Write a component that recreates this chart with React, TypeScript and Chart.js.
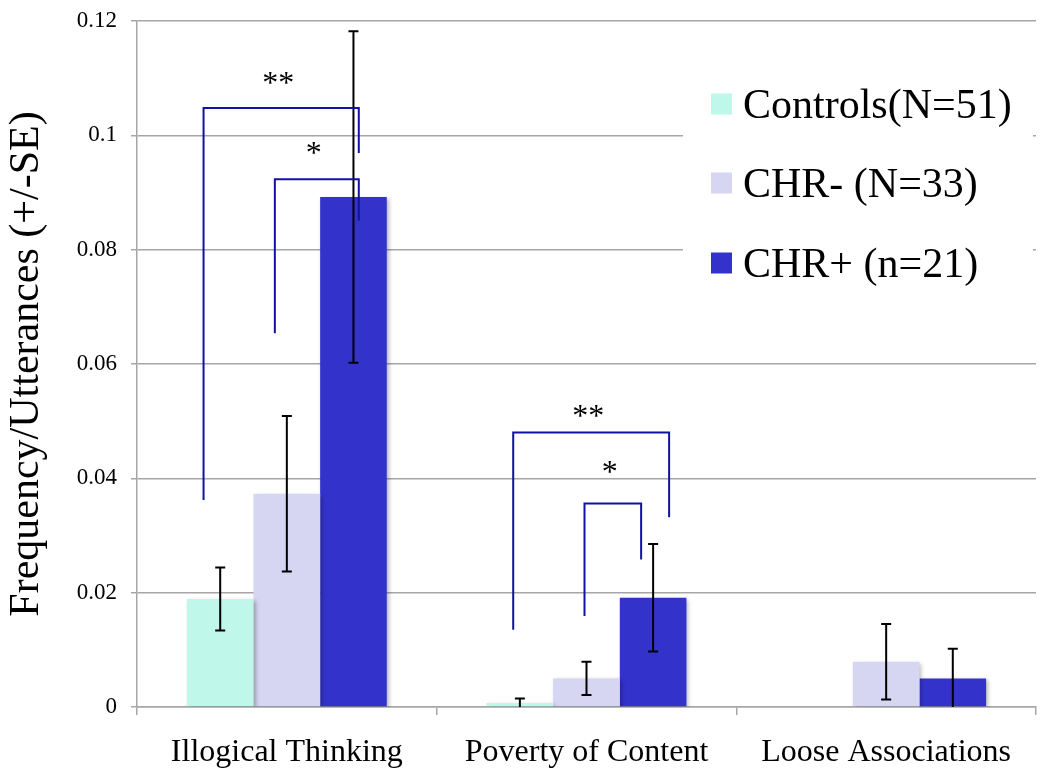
import React, { useEffect, useRef } from "react";
import { Chart, registerables } from "chart.js";

Chart.register(...registerables);

const categories = ["Illogical Thinking", "Poverty of Content", "Loose Associations"];
const seriesLabels = ["Controls(N=51)", "CHR- (N=33)", "CHR+ (n=21)"];
const controlsValues = [0.0189, 0.0007, 0.0];
const chrMinusValues = [0.0373, 0.005, 0.0079];
const chrPlusValues = [0.0892, 0.0191, 0.005];
const controlsSE = [0.0055, 0.0008, 0.0];
const chrMinusSE = [0.0136, 0.0029, 0.0066];
const chrPlusSE = [0.029, 0.0094, 0.0052];
const yTickValues = [0, 0.02, 0.04, 0.06, 0.08, 0.1, 0.12];
const yTickLabels = ["0", "0.02", "0.04", "0.06", "0.08", "0.1", "0.12"];

// significance brackets: category, left series, right series, y values (data units)
const brackets = [
  { cat: 0, from: 0, to: 2, top: 0.1048, leftEnd: 0.0362, rightEnd: 0.0969, label: "**", labelY: 0.1074 },
  { cat: 0, from: 1, to: 2, top: 0.0923, leftEnd: 0.0654, rightEnd: 0.0851, label: "*", labelY: 0.0952 },
  { cat: 1, from: 0, to: 2, top: 0.048, leftEnd: 0.0135, rightEnd: 0.0332, label: "**", labelY: 0.0492 },
  { cat: 1, from: 1, to: 2, top: 0.0356, leftEnd: 0.0159, rightEnd: 0.0258, label: "*", labelY: 0.0394 },
];
// horizontal nudges of bracket ends relative to bar centers (fraction of bar width)
const bracketNudges = [
  { left: -0.25, right: 0.08 },
  { left: -0.18, right: 0.08 },
  { left: -0.1, right: 0.24 },
  { left: -0.03, right: -0.18 },
];

const colors = ["#bff8ea", "#d6d6f3", "#3333cc"];
const SERIF = "'Liberation Serif', 'Times New Roman', Times, serif";

export default function App() {
  const ref = useRef<HTMLCanvasElement | null>(null);

  useEffect(() => {
    if (!ref.current) return;
    const values = [controlsValues, chrMinusValues, chrPlusValues];
    const ses = [controlsSE, chrMinusSE, chrPlusSE];

    const overlay = {
      id: "overlay",
      beforeDatasetsDraw(chart: any) {
        const ctx = chart.ctx;
        ctx.save();
        ctx.shadowColor = "rgba(0,0,0,0.28)";
        ctx.shadowBlur = 4;
        ctx.shadowOffsetX = 2;
        ctx.shadowOffsetY = 2;
      },
      afterDatasetsDraw(chart: any) {
        const ctx = chart.ctx;
        ctx.restore();
        const y = chart.scales.y;
        const area = chart.chartArea;
        // error bars
        ctx.save();
        ctx.strokeStyle = "#000";
        ctx.lineWidth = 2;
        values.forEach((vals, di) => {
          const meta = chart.getDatasetMeta(di);
          meta.data.forEach((el: any, i: number) => {
            const v = vals[i];
            const se = ses[di][i];
            if (!se) return;
            const x = el.x;
            const yt = Math.max(area.top, y.getPixelForValue(v + se));
            const yb = Math.min(area.bottom, y.getPixelForValue(v - se));
            ctx.beginPath();
            ctx.moveTo(x, yt);
            ctx.lineTo(x, yb);
            ctx.moveTo(x - 5, yt);
            ctx.lineTo(x + 5, yt);
            if (yb < area.bottom - 0.5) {
              ctx.moveTo(x - 5, yb);
              ctx.lineTo(x + 5, yb);
            }
            ctx.stroke();
          });
        });
        ctx.restore();
      },
      afterDraw(chart: any) {
        const ctx = chart.ctx;
        const y = chart.scales.y;
        // brackets
        ctx.save();
        ctx.strokeStyle = "#1212a2";
        ctx.lineWidth = 2;
        brackets.forEach((b, k) => {
          const leftEl = chart.getDatasetMeta(b.from).data[b.cat];
          const rightEl = chart.getDatasetMeta(b.to).data[b.cat];
          const bw = leftEl.width;
          const xl = leftEl.x + bracketNudges[k].left * bw;
          const xr = rightEl.x + bracketNudges[k].right * bw;
          const yt = y.getPixelForValue(b.top);
          ctx.beginPath();
          ctx.moveTo(xl, y.getPixelForValue(b.leftEnd));
          ctx.lineTo(xl, yt);
          ctx.lineTo(xr, yt);
          ctx.lineTo(xr, y.getPixelForValue(b.rightEnd));
          ctx.stroke();
          ctx.fillStyle = "#000";
          ctx.font = `32px ${SERIF}`;
          ctx.textAlign = "center";
          ctx.textBaseline = "alphabetic";
          ctx.fillText(b.label, (xl + xr) / 2 - 3, y.getPixelForValue(b.labelY));
        });
        ctx.restore();

        // legend
        ctx.save();
        ctx.fillStyle = "#fff";
        ctx.fillRect(683, 45, 350, 255);
        const rowY = [104, 183, 263];
        seriesLabels.forEach((lab, i) => {
          ctx.fillStyle = colors[i];
          ctx.fillRect(711, rowY[i] - 10.5, 21, 21);
          ctx.fillStyle = "#000";
          ctx.font = `42px ${SERIF}`;
          ctx.textAlign = "left";
          ctx.textBaseline = "middle";
          ctx.fillText(lab, 743, rowY[i] + 3);
        });
        ctx.restore();
      },
    };

    const chart = new Chart(ref.current, {
      type: "bar",
      data: {
        labels: categories,
        datasets: values.map((vals, i) => ({
          label: seriesLabels[i],
          data: vals,
          backgroundColor: colors[i],
          borderWidth: 0,
          categoryPercentage: 0.667,
          barPercentage: 1.0,
        })),
      },
      options: {
        responsive: false,
        animation: false,
        layout: { padding: { left: 0, right: 14, top: 21, bottom: 0 } },
        plugins: {
          legend: { display: false },
          tooltip: { enabled: false },
        },
        scales: {
          x: {
            grid: {
              offset: true,
              drawOnChartArea: false,
              drawTicks: true,
              tickLength: 8,
              color: "#a6a6a6",
              lineWidth: 1.5,
            },
            border: { color: "#a6a6a6", width: 1.5 },
            ticks: {
              color: "#000",
              font: { family: SERIF, size: 32 },
              padding: 18,
              maxRotation: 0,
            },
            afterFit(scale: any) {
              scale.height = 73;
              scale.paddingLeft = 0;
              scale.paddingRight = 0;
            },
          },
          y: {
            min: 0,
            max: 0.12,
            afterBuildTicks(scale: any) {
              scale.ticks = yTickValues.map((v) => ({ value: v }));
            },
            ticks: {
              color: "#000",
              font: { family: SERIF, size: 23 },
              padding: 14,
              callback: (_v: any, index: number) => yTickLabels[index],
            },
            grid: {
              color: "#a6a6a6",
              lineWidth: 1.5,
              tickLength: 6,
            },
            border: { color: "#a6a6a6", width: 1.5 },
            title: {
              display: true,
              text: "Frequency/Utterances (+/-SE)",
              color: "#000",
              font: { family: SERIF, size: 42 },
              padding: { top: 2, bottom: 0 },
            },
            afterFit(scale: any) {
              scale.width = 137;
              scale.paddingTop = 0;
              scale.paddingBottom = 0;
            },
          },
        },
      },
      plugins: [overlay],
    });
    return () => chart.destroy();
  }, []);

  return (
    <div style={{ position: "absolute", left: 0, top: 0, width: 1050, height: 780, background: "#fff" }}>
      <canvas ref={ref} width={1050} height={780} />
    </div>
  );
}
